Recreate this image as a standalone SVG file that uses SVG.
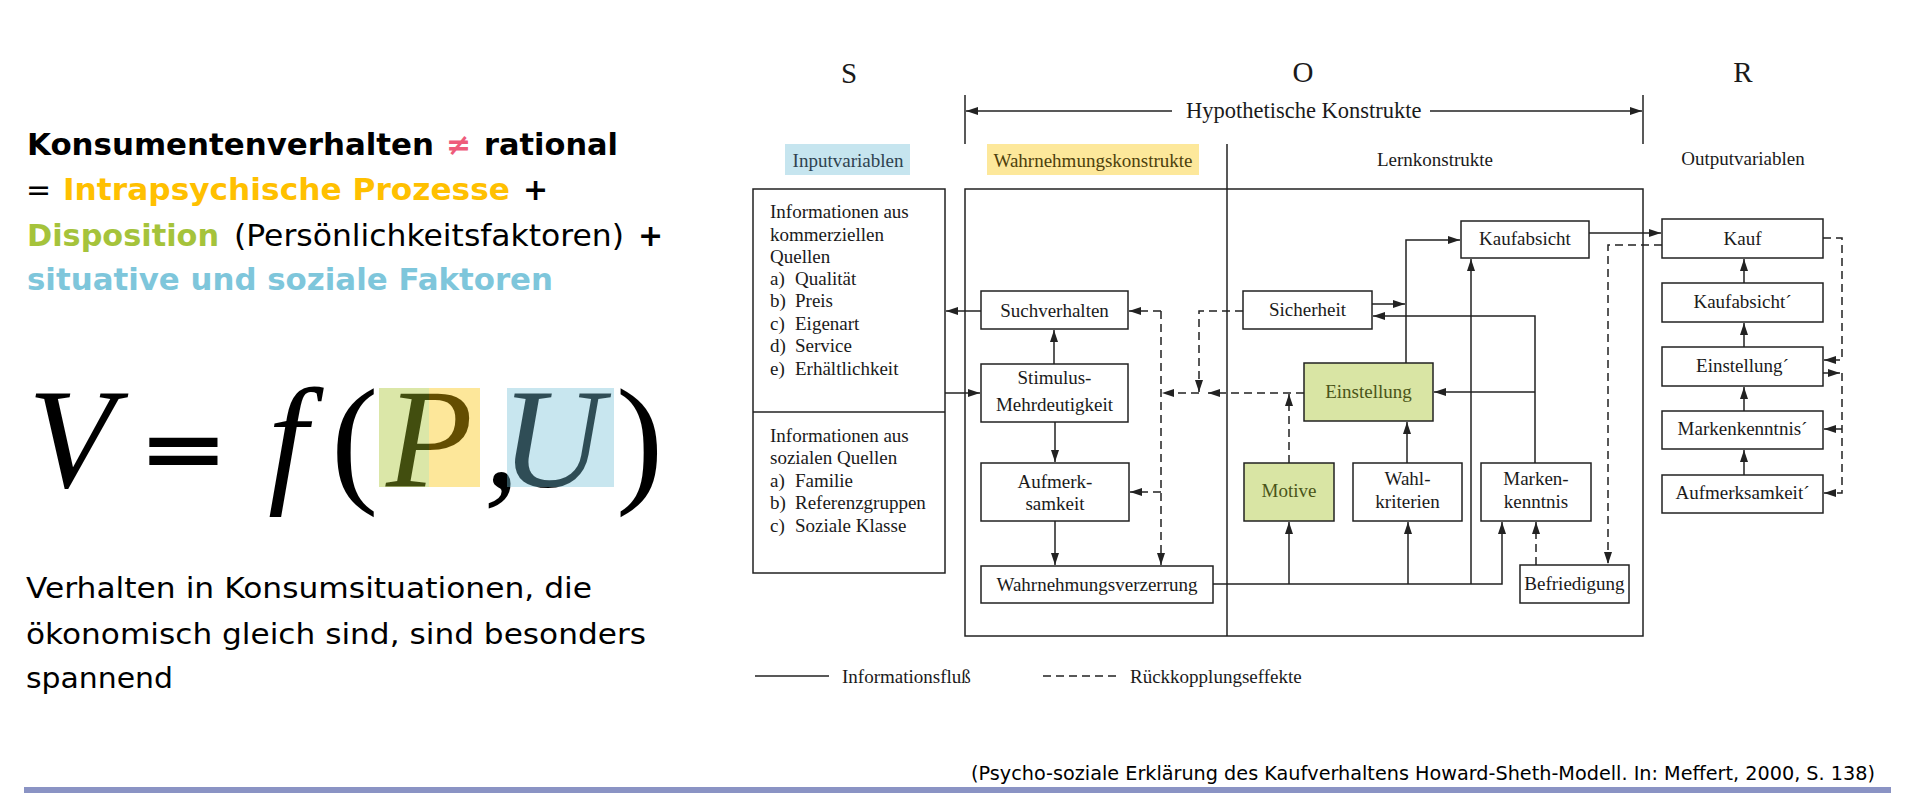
<svg xmlns="http://www.w3.org/2000/svg" width="1915" height="804" viewBox="0 0 1915 804">
<style>
.sl{font-family:"DejaVu Sans","Verdana",sans-serif;font-size:30px;fill:#000}
.b{font-weight:bold}
.fm{font-family:"Liberation Serif","Times New Roman",serif;font-size:142px;fill:#000}
.it{font-style:italic}
.up{font-style:normal}
.dt{font-family:"Liberation Serif","Times New Roman",serif;font-size:19px;fill:#1a1a1a}
.c{text-anchor:middle}
.box{fill:#fff;stroke:#222;stroke-width:1.5}
.gr{fill:#d9e5a4}
.gt{fill:#4a5418}
.ln{fill:none;stroke:#222;stroke-width:1.5}
.ds{stroke-dasharray:8 5}
</style>
<defs>
<marker id="ah" viewBox="0 0 12 8" refX="12" refY="4" markerWidth="12" markerHeight="8" orient="auto" markerUnits="userSpaceOnUse"><path d="M0,0 L12,4 L0,8 z" fill="#222"/></marker>
</defs>
<rect width="1915" height="804" fill="#fff"/>

<g id="left-text">
<text class="sl b" x="27" y="155" textLength="407" lengthAdjust="spacingAndGlyphs">Konsumentenverhalten</text>
<text class="sl b" x="446" y="155" style="fill:#ee5b7b">≠</text>
<text class="sl b" x="484" y="155" textLength="134" lengthAdjust="spacingAndGlyphs">rational</text>
<text class="sl" x="26" y="200">=</text>
<text class="sl b" x="63" y="200" textLength="447" lengthAdjust="spacingAndGlyphs" style="fill:#ffc000">Intrapsychische Prozesse</text>
<text class="sl b" x="523" y="200">+</text>
<text class="sl b" x="27" y="246" textLength="192" lengthAdjust="spacingAndGlyphs" style="fill:#a5c33b">Disposition</text>
<text class="sl" x="234" y="246" textLength="390" lengthAdjust="spacingAndGlyphs">(Persönlichkeitsfaktoren)</text>
<text class="sl b" x="638" y="246">+</text>
<text class="sl b" x="27" y="290" textLength="526" lengthAdjust="spacingAndGlyphs" style="fill:#7ec6db">situative und soziale Faktoren</text>
</g>

<g id="formula">
<text class="fm it" x="28" y="487">V</text>
<text transform="translate(146,474) scale(1,0.52)" style="font-family:'Liberation Sans',Arial,sans-serif;font-weight:bold;font-size:128px;fill:#000;stroke:#000;stroke-width:4">=</text>
<text class="fm it" y="487"><tspan x="268">f</tspan><tspan class="up" x="331">(</tspan><tspan x="386 484 501">P,U</tspan><tspan class="up" x="616">)</tspan></text>
<rect x="379" y="388" width="50" height="99" fill="#a5c325" opacity="0.4"/>
<rect x="429" y="388" width="51" height="99" fill="#fac302" opacity="0.4"/>
<rect x="507" y="388" width="107" height="99" fill="#75c0d7" opacity="0.4"/>
</g>

<g id="bottom-text">
<text class="sl" x="26" y="598" style="font-size:28px" textLength="566" lengthAdjust="spacingAndGlyphs">Verhalten in Konsumsituationen, die</text>
<text class="sl" x="26" y="644" style="font-size:28px" textLength="620" lengthAdjust="spacingAndGlyphs">ökonomisch gleich sind, sind besonders</text>
<text class="sl" x="26" y="688" style="font-size:28px" textLength="147" lengthAdjust="spacingAndGlyphs">spannend</text>
</g>

<g id="header">
<text class="dt c" x="849" y="83" style="font-size:29px">S</text>
<text class="dt c" x="1303" y="82" style="font-size:29px">O</text>
<text class="dt c" x="1743" y="82" style="font-size:29px">R</text>
<line class="ln" x1="965" y1="95" x2="965" y2="144"/>
<line class="ln" x1="1643" y1="95" x2="1643" y2="144"/>
<path class="ln" d="M1172,111 H966" marker-end="url(#ah)"/>
<path class="ln" d="M1430,111 H1642" marker-end="url(#ah)"/>
<text class="dt" x="1186" y="118" style="font-size:22.5px">Hypothetische Konstrukte</text>
<rect x="785" y="144" width="125" height="31" fill="#c6e5ef"/>
<rect x="987" y="144" width="212" height="31" fill="#fde89b"/>
<text class="dt c" x="848" y="167" style="fill:#2e4250">Inputvariablen</text>
<text class="dt c" x="1093" y="167" style="fill:#4d400c">Wahrnehmungskonstrukte</text>
<text class="dt c" x="1435" y="166">Lernkonstrukte</text>
<text class="dt c" x="1743" y="165">Outputvariablen</text>
</g>

<g id="frames">
<rect class="box" x="965" y="189" width="678" height="447"/>
<line class="ln" x1="1227" y1="144" x2="1227" y2="636"/>
</g>

<g id="input-box">
<rect class="box" x="753" y="189" width="192" height="384"/>
<line class="ln" x1="753" y1="412" x2="945" y2="412"/>
<text class="dt" x="770" y="218">Informationen aus</text>
<text class="dt" x="770" y="241">kommerziellen</text>
<text class="dt" x="770" y="263">Quellen</text>
<text class="dt" x="770" y="285">a)</text><text class="dt" x="795" y="285">Qualität</text>
<text class="dt" x="770" y="307">b)</text><text class="dt" x="795" y="307">Preis</text>
<text class="dt" x="770" y="330">c)</text><text class="dt" x="795" y="330">Eigenart</text>
<text class="dt" x="770" y="352">d)</text><text class="dt" x="795" y="352">Service</text>
<text class="dt" x="770" y="375">e)</text><text class="dt" x="795" y="375">Erhältlichkeit</text>
<text class="dt" x="770" y="442">Informationen aus</text>
<text class="dt" x="770" y="464">sozialen Quellen</text>
<text class="dt" x="770" y="487">a)</text><text class="dt" x="795" y="487">Familie</text>
<text class="dt" x="770" y="509">b)</text><text class="dt" x="795" y="509">Referenzgruppen</text>
<text class="dt" x="770" y="532">c)</text><text class="dt" x="795" y="532">Soziale Klasse</text>
</g>

<g id="suchverhalten"><rect class="box" x="981" y="291" width="147" height="38"/><text class="dt c" x="1054.5" y="317">Suchverhalten</text></g>
<g id="stimulus"><rect class="box" x="981" y="364" width="147" height="58"/><text class="dt c" x="1054.5" y="384">Stimulus-</text><text class="dt c" x="1054.5" y="411">Mehrdeutigkeit</text></g>
<g id="aufmerksamkeit"><rect class="box" x="981" y="463" width="148" height="58"/><text class="dt c" x="1055" y="488">Aufmerk-</text><text class="dt c" x="1055" y="510">samkeit</text></g>
<g id="wahrnehmungsverzerrung"><rect class="box" x="981" y="566" width="232" height="37"/><text class="dt c" x="1097" y="591">Wahrnehmungsverzerrung</text></g>
<g id="sicherheit"><rect class="box" x="1243" y="291" width="129" height="38"/><text class="dt c" x="1307.5" y="316">Sicherheit</text></g>
<g id="kaufabsicht"><rect class="box" x="1461" y="221" width="128" height="37"/><text class="dt c" x="1525" y="245">Kaufabsicht</text></g>
<g id="einstellung"><rect class="box gr" x="1304" y="363" width="129" height="58"/><text class="dt c gt" x="1368.5" y="398">Einstellung</text></g>
<g id="motive"><rect class="box gr" x="1244" y="463" width="90" height="58"/><text class="dt c gt" x="1289" y="497">Motive</text></g>
<g id="wahlkriterien"><rect class="box" x="1353" y="463" width="109" height="58"/><text class="dt c" x="1407.5" y="485">Wahl-</text><text class="dt c" x="1407.5" y="508">kriterien</text></g>
<g id="markenkenntnis"><rect class="box" x="1481" y="463" width="110" height="58"/><text class="dt c" x="1536" y="485">Marken-</text><text class="dt c" x="1536" y="508">kenntnis</text></g>
<g id="befriedigung"><rect class="box" x="1520" y="565" width="109" height="38"/><text class="dt c" x="1574.5" y="590">Befriedigung</text></g>
<g id="kauf"><rect class="box" x="1662" y="219" width="161" height="39"/><text class="dt c" x="1742.5" y="245">Kauf</text></g>
<g id="kaufabsicht2"><rect class="box" x="1662" y="283" width="161" height="39"/><text class="dt c" x="1742.5" y="308">Kaufabsicht´</text></g>
<g id="einstellung2"><rect class="box" x="1662" y="347" width="161" height="39"/><text class="dt c" x="1742.5" y="372">Einstellung´</text></g>
<g id="markenkenntnis2"><rect class="box" x="1662" y="411" width="161" height="38"/><text class="dt c" x="1742.5" y="435">Markenkenntnis´</text></g>
<g id="aufmerksamkeit2"><rect class="box" x="1662" y="475" width="161" height="38"/><text class="dt c" x="1742.5" y="499">Aufmerksamkeit´</text></g>

<g id="connectors">
<path class="ln" d="M981,311 H946" marker-end="url(#ah)"/>
<path class="ln" d="M945,393 H980" marker-end="url(#ah)"/>
<path class="ln" d="M1054,364 V330" marker-end="url(#ah)"/>
<path class="ln" d="M1055,422 V462" marker-end="url(#ah)"/>
<path class="ln" d="M1055,521 V565" marker-end="url(#ah)"/>
<path class="ln" d="M1213,584 H1502 V522" marker-end="url(#ah)"/>
<path class="ln" d="M1289,584 V522" marker-end="url(#ah)"/>
<path class="ln" d="M1408,584 V522" marker-end="url(#ah)"/>
<path class="ln" d="M1471,584 V259" marker-end="url(#ah)"/>
<path class="ln" d="M1407,463 V422" marker-end="url(#ah)"/>
<path class="ln" d="M1406,363 V240 H1460" marker-end="url(#ah)"/>
<path class="ln" d="M1372,304 H1405" marker-end="url(#ah)"/>
<path class="ln" d="M1535,463 V316 H1373" marker-end="url(#ah)"/>
<path class="ln" d="M1535,392 H1434" marker-end="url(#ah)"/>
<path class="ln" d="M1589,233 H1661" marker-end="url(#ah)"/>
<path class="ln" d="M1744,475 V450" marker-end="url(#ah)"/>
<path class="ln" d="M1744,411 V387" marker-end="url(#ah)"/>
<path class="ln" d="M1744,347 V323" marker-end="url(#ah)"/>
<path class="ln" d="M1744,283 V259" marker-end="url(#ah)"/>
<path class="ln" d="M1823,373 H1840" marker-end="url(#ah)"/>
<path class="ln ds" d="M1243,311 H1199 V392" marker-end="url(#ah)"/>
<path class="ln ds" d="M1304,393 H1208" marker-end="url(#ah)"/>
<path class="ln ds" d="M1199,393 H1162" marker-end="url(#ah)"/>
<path class="ln ds" d="M1289,463 V394" marker-end="url(#ah)"/>
<path class="ln ds" d="M1161,311 V565" marker-end="url(#ah)"/>
<path class="ln ds" d="M1161,311 H1129" marker-end="url(#ah)"/>
<path class="ln ds" d="M1161,492 H1130" marker-end="url(#ah)"/>
<path class="ln ds" d="M1662,245 H1608 V564" marker-end="url(#ah)"/>
<path class="ln ds" d="M1536,565 V522" marker-end="url(#ah)"/>
<path class="ln ds" d="M1823,238 H1842 V360 H1824" marker-end="url(#ah)"/>
<path class="ln ds" d="M1842,373 V493 H1824" marker-end="url(#ah)"/>
<path class="ln ds" d="M1842,429 H1824" marker-end="url(#ah)"/>
</g>

<g id="legend">
<line class="ln" x1="755" y1="676" x2="829" y2="676"/>
<text class="dt" x="842" y="683">Informationsfluß</text>
<line class="ln ds" x1="1043" y1="676" x2="1117" y2="676"/>
<text class="dt" x="1130" y="683">Rückkopplungseffekte</text>
</g>

<g id="footer">
<text class="sl" x="971" y="780" style="font-size:20px" textLength="904" lengthAdjust="spacingAndGlyphs">(Psycho-soziale Erklärung des Kaufverhaltens Howard-Sheth-Modell. In: Meffert, 2000, S. 138)</text>
<rect x="24" y="787" width="1867" height="6" fill="#8a93c4"/>
</g>
</svg>
